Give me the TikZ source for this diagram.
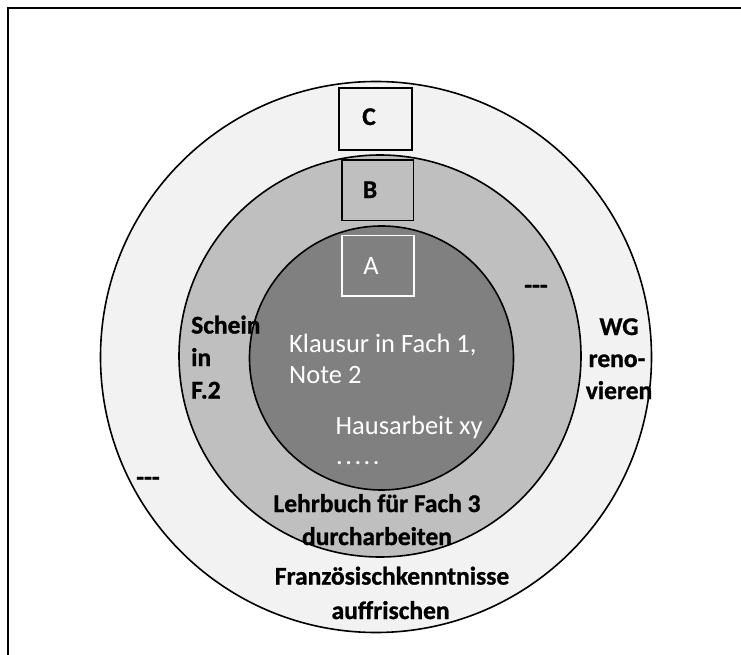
\documentclass[tikz,border=0pt]{standalone}
\usepackage{fontspec}
\setmainfont{Carlito}[BoldFeatures={FakeBold=1}]
\usetikzlibrary{positioning}
\definecolor{ringC}{RGB}{242,242,242}
\definecolor{ringB}{RGB}{191,191,191}
\definecolor{ringA}{RGB}{128,128,128}
\tikzset{
  blk/.style={font=\fontsize{25.5}{32}\selectfont\bfseries, inner sep=0pt, anchor=base},
  wht/.style={font=\fontsize{26.5}{32}\selectfont, text=white, inner sep=0pt, anchor=base west},
}
\begin{document}
\begin{tikzpicture}[x=1pt,y=-1pt]
      \useasboundingbox (0,0) rectangle (741,655);
      \draw[line width=1.5pt] (8,655) -- (8,8) -- (741,8);

      % outer ring
      \draw[fill=ringC, line width=1.6pt] (376,357) circle (275.5pt);
      \draw[fill=ringC, line width=1.6pt] (339,88) rectangle (412,150);
      \node[blk] (c) at (369,125) {C};

      % middle ring
      \draw[fill=ringB, line width=1.6pt] (380,356) circle (201pt);
      \draw[fill=ringB, line width=1.6pt] (342,160) rectangle (413.5,220.5);
      \node[blk] (b) at (370,198) {B};

      % inner ring
      \draw[fill=ringA, line width=1.6pt] (381.5,358) circle (132pt);
      \draw[draw=white, line width=1.6pt] (342,235.5) rectangle (414,296);
      \node[wht, anchor=base] (a) at (371,274.5) {A};

      \node[wht] (klausur) at (289,352) {Klausur in Fach 1,};
      \node[wht] (note) at (289,383.7) {Note 2};
      \node[wht] (haus) at (335.5,434) {Hausarbeit xy};
      \node[wht] (dots) at (336,464) {.\kern2.5pt.\kern2.5pt.\kern2.5pt.\kern2.5pt.};

      \node[blk, anchor=base west] (schein) at (191,333.5) {Schein};
      \node[blk, anchor=base west] (in) at (191,366) {in};
      \node[blk, anchor=base west] (f2) at (191,398.5) {F.2};
      \node[blk] (etc1) at (536,293.5) {{-}{-}{-}};

      \node[blk] (wg) at (619,335) {WG};
      \node[blk] (reno) at (617,367) {reno-};
      \node[blk] (vieren) at (619,399) {vieren};
      \node[blk] (etc2) at (148,485.5) {{-}{-}{-}};

      \node[blk] (lehr) at (377,512) {Lehrbuch für Fach 3};
      \node[blk] (durch) at (377,545) {durcharbeiten};
      \node[blk] (franz) at (392,584.6) {Französischkenntnisse};
      \node[blk] (auff) at (390.6,619) {auffrischen};
    \end{tikzpicture}
\end{document}
